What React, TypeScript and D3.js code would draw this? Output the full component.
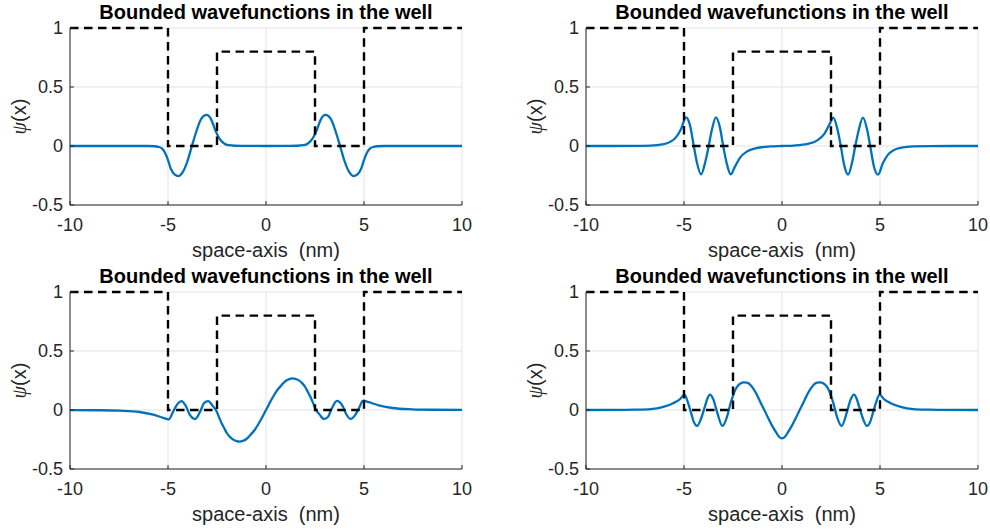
import React from "react";
import * as d3 from "d3";

// Axis ticks and labels
const X_TICKS = [-10, -5, 0, 5, 10];
const Y_TICKS = [-0.5, 0, 0.5, 1];
const TITLE = "Bounded wavefunctions in the well";
const X_LABEL = "space-axis  (nm)";

// Double-well potential profile (normalised)
const POT_X = [-10, -5, -5, -2.5, -2.5, 2.5, 2.5, 5, 5, 10];
const POT_V = [1, 1, 0, 0, 0.8, 0.8, 0, 0, 1, 1];

// State 1 (even)
const PSI1_X = [-10, -6, -5.7, -5.5, -5.3, -5.15, -5.0, -4.85, -4.65, -4.47, -4.25, -4.0, -3.78, -3.55, -3.3, -3.03, -2.8, -2.6, -2.45, -2.3, -2.1, -1.9, -1.6, -1.2, 0,
  1.2, 1.6, 1.9, 2.1, 2.3, 2.45, 2.6, 2.8, 3.03, 3.3, 3.55, 3.78, 4.0, 4.25, 4.47, 4.65, 4.85, 5.0, 5.15, 5.3, 5.5, 5.7, 6, 10];
const PSI1_V = [0, 0, -0.002, -0.007, -0.022, -0.058, -0.12, -0.195, -0.243, -0.255, -0.222, -0.125, 0, 0.125, 0.232, 0.263, 0.226, 0.14, 0.085, 0.047, 0.017, 0.007, 0.002, 0.0005, 0,
  0.0005, 0.002, 0.007, 0.017, 0.047, 0.085, 0.14, 0.226, 0.263, 0.232, 0.125, 0, -0.125, -0.222, -0.255, -0.243, -0.195, -0.12, -0.058, -0.022, -0.007, -0.002, 0, 0];

// State 2 (odd)
const PSI2_X = [-10, -7.5, -6.7, -6.1, -5.7, -5.4, -5.15, -4.9, -4.7, -4.5, -4.35, -4.13, -3.9, -3.74, -3.58, -3.37, -3.17, -3.0, -2.82, -2.62, -2.4, -2.15, -1.8, -1.3, -0.6, 0,
  0.6, 1.3, 1.8, 2.15, 2.4, 2.62, 2.82, 3.0, 3.17, 3.37, 3.58, 3.74, 3.9, 4.13, 4.35, 4.5, 4.7, 4.9, 5.15, 5.4, 5.7, 6.1, 6.7, 7.5, 10];
const PSI2_V = [0, 0.0006, 0.003, 0.013, 0.035, 0.075, 0.145, 0.243, 0.18, 0, -0.133, -0.24, -0.125, 0, 0.135, 0.243, 0.16, 0, -0.147, -0.24, -0.175, -0.1, -0.048, -0.018, -0.004, 0,
  0.004, 0.018, 0.048, 0.1, 0.175, 0.24, 0.147, 0, -0.16, -0.243, -0.135, 0, 0.125, 0.24, 0.133, 0, -0.18, -0.243, -0.145, -0.075, -0.035, -0.013, -0.003, -0.0006, 0];

// State 3 (odd)
const PSI3_X = [-10, -8.5, -7.45, -6.45, -5.75, -5.25, -4.96, -4.73, -4.52, -4.31, -4.1, -3.89, -3.62, -3.35, -3.16, -2.95, -2.73, -2.52,
  -2.4, -2.27, -2.13, -2.0, -1.83, -1.67, -1.5, -1.35, -1.18, -1.0, -0.8, -0.57, -0.4, -0.2, 0,
  0.2, 0.4, 0.57, 0.8, 1.0, 1.18, 1.35, 1.5, 1.67, 1.83, 2.0, 2.13, 2.27, 2.4,
  2.52, 2.73, 2.95, 3.16, 3.35, 3.62, 3.89, 4.1, 4.31, 4.52, 4.73, 4.96, 5.25, 5.75, 6.45, 7.45, 8.5, 10];
const PSI3_V = [-0.0004, -0.002, -0.006, -0.017, -0.04, -0.066, -0.08, -0.011, 0.05, 0.076, 0.037, -0.04, -0.077, -0.011, 0.059, 0.076, 0.037, -0.011,
  -0.06, -0.11, -0.155, -0.195, -0.23, -0.251, -0.264, -0.268, -0.262, -0.246, -0.212, -0.167, -0.123, -0.064, 0,
  0.064, 0.123, 0.167, 0.212, 0.246, 0.262, 0.268, 0.264, 0.251, 0.23, 0.195, 0.155, 0.11, 0.06,
  0.011, -0.037, -0.076, -0.059, 0.011, 0.077, 0.04, -0.037, -0.076, -0.05, 0.011, 0.08, 0.066, 0.04, 0.017, 0.006, 0.002, 0.0004];

// State 4 (even)
const PSI4_X = [-10, -8.5, -7.5, -6.7, -6.1, -5.55, -5.2, -4.98, -4.8, -4.64, -4.49, -4.33, -4.12, -3.93, -3.8, -3.67, -3.5, -3.3, -3.04, -2.8, -2.62,
  -2.5, -2.4, -2.25, -2.1, -1.95, -1.8, -1.65, -1.5, -1.3, -1.1, -0.9, -0.7, -0.5, -0.3, -0.15, 0,
  0.15, 0.3, 0.5, 0.7, 0.9, 1.1, 1.3, 1.5, 1.65, 1.8, 1.95, 2.1, 2.25, 2.4, 2.5,
  2.62, 2.8, 3.04, 3.3, 3.5, 3.67, 3.8, 3.93, 4.12, 4.33, 4.49, 4.64, 4.8, 4.98, 5.2, 5.55, 6.1, 6.7, 7.5, 8.5, 10];
const PSI4_V = [0.0001, 0.0006, 0.003, 0.008, 0.024, 0.058, 0.093, 0.13, 0.065, -0.025, -0.105, -0.135, -0.068, 0.031, 0.1, 0.13, 0.088, -0.025, -0.135, -0.054, 0.059,
  0.12, 0.165, 0.205, 0.226, 0.234, 0.232, 0.22, 0.19, 0.135, 0.065, 0, -0.07, -0.135, -0.19, -0.227, -0.24,
  -0.227, -0.19, -0.135, -0.07, 0, 0.065, 0.135, 0.19, 0.22, 0.232, 0.234, 0.226, 0.205, 0.165, 0.12,
  0.059, -0.054, -0.135, -0.025, 0.088, 0.13, 0.1, 0.031, -0.068, -0.135, -0.105, -0.025, 0.065, 0.13, 0.093, 0.058, 0.024, 0.008, 0.003, 0.0006, 0.0001];

const W = 990;
const H = 530;
const PW = 392;
const PH = 177;
const FONT = "'Liberation Sans', Arial, Helvetica, sans-serif";
const AX = "#262626";
const BLUE = "#0072BD";

const panels = [
  { left: 70, top: 28, xs: PSI1_X, vs: PSI1_V },
  { left: 586, top: 28, xs: PSI2_X, vs: PSI2_V },
  { left: 70, top: 292, xs: PSI3_X, vs: PSI3_V },
  { left: 586, top: 292, xs: PSI4_X, vs: PSI4_V },
];

function Panel({ left, top, xs, vs }: { left: number; top: number; xs: number[]; vs: number[] }) {
  const x = d3.scaleLinear().domain([-10, 10]).range([0, PW]);
  const y = d3.scaleLinear().domain([-0.5, 1]).range([PH, 0]);
  const psiLine = d3
    .line<number>()
    .x((_, i) => x(xs[i]))
    .y((v) => y(v))
    .curve(d3.curveMonotoneX);
  const potLine = d3
    .line<number>()
    .x((_, i) => x(POT_X[i]))
    .y((v) => y(v));

  return (
    <g transform={`translate(${left},${top})`}>
      {X_TICKS.map((t) => (
        <line key={"gx" + t} x1={x(t)} x2={x(t)} y1={0} y2={PH} stroke="#e3e3e3" strokeWidth={1} />
      ))}
      {Y_TICKS.map((t) => (
        <line key={"gy" + t} x1={0} x2={PW} y1={y(t)} y2={y(t)} stroke="#e3e3e3" strokeWidth={1} />
      ))}
      <path d={psiLine(vs) || ""} fill="none" stroke={BLUE} strokeWidth={2.3} strokeLinejoin="round" />
      <path d={potLine(POT_V) || ""} fill="none" stroke="#000" strokeWidth={2.4} strokeDasharray="8.5,5.5" />
      <line x1={0} x2={0} y1={0} y2={PH} stroke={AX} strokeWidth={1} />
      <line x1={0} x2={PW} y1={PH} y2={PH} stroke={AX} strokeWidth={1} />
      {X_TICKS.map((t) => (
        <g key={"tx" + t}>
          <line x1={x(t)} x2={x(t)} y1={PH} y2={PH - 4} stroke={AX} strokeWidth={1} />
          <text x={x(t)} y={PH + 26} textAnchor="middle" fontSize={18} fill={AX} fontFamily={FONT}>
            {String(t)}
          </text>
        </g>
      ))}
      {Y_TICKS.map((t) => (
        <g key={"ty" + t}>
          <line x1={0} x2={4} y1={y(t)} y2={y(t)} stroke={AX} strokeWidth={1} />
          <text x={-7} y={y(t)} dy="0.36em" textAnchor="end" fontSize={18} fill={AX} fontFamily={FONT}>
            {String(t)}
          </text>
        </g>
      ))}
      <text x={PW / 2} y={-9} textAnchor="middle" fontSize={20} fontWeight="bold" fill="#000" fontFamily={FONT}>
        {TITLE}
      </text>
      <text x={PW / 2} y={PH + 52} textAnchor="middle" fontSize={20} fill={AX} fontFamily={FONT} style={{ whiteSpace: "pre" }}>
        {X_LABEL}
      </text>
      <text transform={`translate(-44,${PH / 2}) rotate(-90)`} textAnchor="middle" fontSize={20} fill={AX} fontFamily={FONT}>
        <tspan fontFamily="'Liberation Serif', 'DejaVu Serif', serif" fontStyle="italic">ψ</tspan>
        <tspan>(x)</tspan>
      </text>
    </g>
  );
}

export default function App() {
  return (
    <svg width={W} height={H} style={{ display: "block", position: "absolute", left: 0, top: 0, background: "#fff" }}>
      <rect width={W} height={H} fill="#fff" />
      {panels.map((p, i) => (
        <Panel key={i} {...p} />
      ))}
    </svg>
  );
}
